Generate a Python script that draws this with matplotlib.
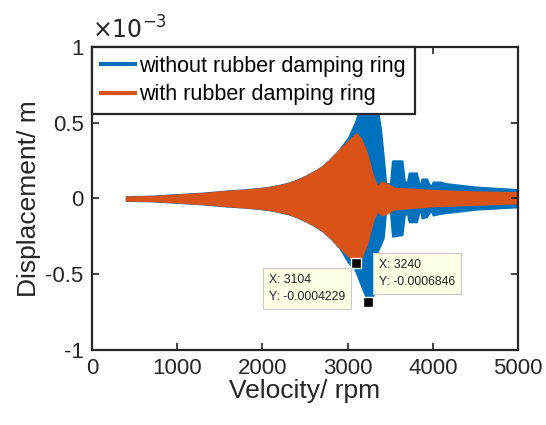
import numpy as np
import matplotlib
matplotlib.use("Agg")
import matplotlib.pyplot as plt
from matplotlib.lines import Line2D
from matplotlib.ticker import FuncFormatter

plt.rcParams['font.family'] = ['Liberation Sans', 'DejaVu Sans']
plt.rcParams['axes.unicode_minus'] = False

# envelope of the response (units of 1e-3 m)
rpm_without = [400, 700, 1000, 1300, 1600, 1800, 2000, 2100, 2200, 2300, 2400, 2500,
               2600, 2700, 2800, 2900, 3005, 3087, 3170, 3240, 3300, 3350, 3390, 3420, 3450, 3500,
               3525, 3640, 3670, 3700, 3720, 3810, 3840, 3860, 3870, 3930,
               3960, 3990, 4000, 4090, 4150, 4500, 5000]
upper_without = [0.014, 0.017, 0.027, 0.037, 0.052, 0.059, 0.07, 0.078, 0.089, 0.102, 0.122, 0.147,
                 0.177, 0.212, 0.262, 0.322, 0.40, 0.50, 0.65, 0.70, 0.70, 0.60, 0.45, 0.28, 0.10, 0.10,
                 0.25, 0.25, 0.11, 0.11, 0.17, 0.17, 0.10, 0.10, 0.13, 0.13,
                 0.09, 0.09, 0.11, 0.11, 0.10, 0.077, 0.06]
lower_without = [-0.014, -0.017, -0.027, -0.037, -0.052, -0.059, -0.07, -0.078, -0.089, -0.102, -0.122, -0.147,
                 -0.177, -0.212, -0.262, -0.322, -0.42, -0.47, -0.59, -0.685, -0.64, -0.35, -0.30, -0.26, -0.08, -0.09,
                 -0.25, -0.24, -0.10, -0.10, -0.155, -0.155, -0.09, -0.09, -0.13, -0.12,
                 -0.09, -0.09, -0.11, -0.10, -0.095, -0.072, -0.056]

rpm_with = [400, 700, 1000, 1300, 1600, 1800, 2000, 2100, 2200, 2300, 2400, 2500,
            2600, 2700, 2800, 2900, 3000, 3065, 3104, 3160, 3225, 3300, 3350, 3400,
            3450, 3550, 4000, 4500, 5000]
upper_with = [0.012, 0.015, 0.025, 0.035, 0.05, 0.057, 0.068, 0.076, 0.087, 0.10, 0.12, 0.145,
              0.175, 0.21, 0.26, 0.32, 0.375, 0.41, 0.43, 0.39, 0.30, 0.14, 0.08, 0.11,
              0.10, 0.07, 0.055, 0.045, 0.04]
lower_with = [-0.012, -0.015, -0.025, -0.035, -0.05, -0.057, -0.068, -0.076, -0.087, -0.10, -0.12, -0.145,
              -0.175, -0.21, -0.26, -0.32, -0.375, -0.41, -0.4229, -0.39, -0.30, -0.14, -0.08, -0.11,
              -0.10, -0.07, -0.05, -0.04, -0.03]

# data tips
tip_x = [3104, 3240]
tip_y = [-0.0004229, -0.0006846]

y_ticks = [-1, -0.5, 0, 0.5, 1]
x_ticks = [0, 1000, 2000, 3000, 4000, 5000]

labels = ['without rubber damping ring', 'with rubber damping ring']
colors = ['#0072BD', '#D95319']
edge = '#262626'

fig = plt.figure(figsize=(5.46, 4.25), dpi=100)
ax = fig.add_axes([0.1685, 0.1765, 0.7802, 0.7129])

ax.fill_between(rpm_without, np.array(upper_without) * 1e-3, np.array(lower_without) * 1e-3,
                color=colors[0], lw=1.2)
ax.fill_between(rpm_with, np.array(upper_with) * 1e-3, np.array(lower_with) * 1e-3,
                color=colors[1], lw=1.2)

ax.set_xlim(0, 5000)
ax.set_ylim(-1e-3, 1e-3)
ax.set_xticks(x_ticks)
ax.set_yticks(np.array(y_ticks) * 1e-3)
ax.yaxis.set_major_formatter(FuncFormatter(lambda v, p: f'{v * 1e3:g}'))
ax.text(0.0, 1.012, r'$\times10^{-3}$', transform=ax.transAxes, fontsize=17,
        color=edge, ha='left', va='bottom')

ax.tick_params(direction='in', length=5, width=1.2, top=True, right=True,
               labelsize=16, colors=edge, pad=6)
for s in ax.spines.values():
    s.set_linewidth(1.6)
    s.set_color(edge)

ax.set_xlabel('Velocity/ rpm', fontsize=19, color=edge, labelpad=0)
ax.set_ylabel('Displacement/ m', fontsize=19, color=edge, labelpad=3)

# data tip markers and boxes
ax.plot(tip_x, tip_y, 's', color='black', markeredgecolor='white', markersize=7, zorder=5)
tip_box = dict(boxstyle='square,pad=0.5', fc='#FFFFE6', ec='#C8C8C8', lw=0.8)
ax.annotate(f'X: {tip_x[0]}\nY: {tip_y[0]:.7f}', (tip_x[0], tip_y[0]),
            xytext=(-8, -8), textcoords='offset points', ha='right', va='top',
            multialignment='left', fontsize=8.8, color='#222222', bbox=tip_box,
            linespacing=1.6)
ax.annotate(f'X: {tip_x[1]}\nY: {tip_y[1]:.7f}', (tip_x[1], tip_y[1]),
            xytext=(8, 10), textcoords='offset points', ha='left', va='bottom',
            multialignment='left', fontsize=8.8, color='#222222', bbox=tip_box,
            linespacing=1.6)

handles = [Line2D([], [], color=c, lw=3) for c in colors]
leg = ax.legend(handles, labels, loc='upper left', borderaxespad=0, fontsize=15.5,
                handlelength=1.6, handletextpad=0.2, borderpad=0.4, labelspacing=0.35,
                fancybox=False, framealpha=1, edgecolor=edge)
leg.get_frame().set_linewidth(1.6)
leg.set_zorder(6)

fig.savefig('out.png', dpi=100)
